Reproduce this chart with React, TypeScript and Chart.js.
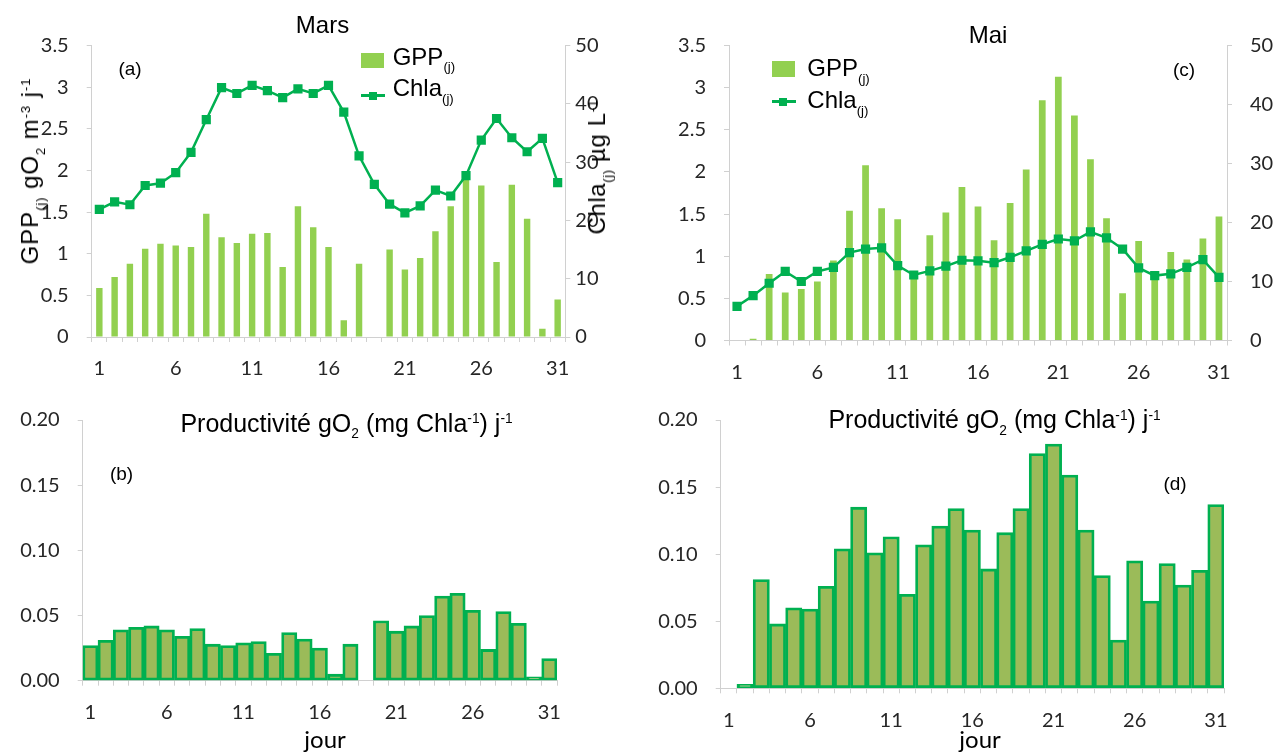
import React, { useEffect, useRef } from 'react';
import { Chart, registerables } from 'chart.js';

Chart.register(...registerables);

// ---------- data ----------
const days = ['1','2','3','4','5','6','7','8','9','10','11','12','13','14','15','16','17','18','19','20','21','22','23','24','25','26','27','28','29','30','31'];

const marsGPP = [0.59,0.72,0.88,1.06,1.12,1.10,1.08,1.48,1.20,1.13,1.24,1.25,0.84,1.57,1.32,1.08,0.20,0.88,null,1.05,0.81,0.95,1.27,1.57,1.90,1.82,0.90,1.83,1.42,0.10,0.45];
const marsChla = [21.9,23.2,22.7,26.0,26.4,28.2,31.7,37.3,42.8,41.8,43.2,42.3,41.1,42.6,41.8,43.2,38.6,31.1,26.2,22.8,21.3,22.5,25.2,24.2,27.7,33.8,37.5,34.2,31.8,34.1,26.5];

const maiGPP = [null,0.02,0.79,0.57,0.61,0.70,0.95,1.54,2.08,1.57,1.44,0.77,1.25,1.52,1.82,1.59,1.19,1.63,2.03,2.85,3.13,2.67,2.15,1.45,0.56,1.18,0.75,1.05,0.96,1.21,1.47];
const maiChla = [5.8,7.6,9.7,11.7,10.0,11.7,12.4,14.9,15.5,15.7,12.7,11.1,11.8,12.6,13.6,13.5,13.2,14.1,15.2,16.3,17.2,16.9,18.4,17.4,15.5,12.3,11.0,11.3,12.4,13.7,10.7];

const marsProd = [0.027,0.031,0.039,0.041,0.042,0.039,0.034,0.040,0.028,0.027,0.029,0.030,0.021,0.037,0.032,0.025,0.005,0.028,null,0.046,0.038,0.042,0.050,0.065,0.067,0.054,0.024,0.053,0.044,0.003,0.017];
const maiProd = [null,0.003,0.081,0.048,0.060,0.059,0.076,0.104,0.135,0.101,0.113,0.070,0.107,0.121,0.134,0.118,0.089,0.116,0.134,0.175,0.182,0.159,0.118,0.084,0.036,0.095,0.065,0.093,0.077,0.088,0.137];

const gppTicks = [0, 0.5, 1, 1.5, 2, 2.5, 3, 3.5];
const chlaTicks = [0, 10, 20, 30, 40, 50];
const prodTicks = [0, 0.05, 0.1, 0.15, 0.2];

// ---------- styles ----------
const LATO = 'Lato, "Open Sans", sans-serif';
const ARIAL = '"Liberation Sans", Arial, sans-serif';
const TICK_FONT = { family: 'Lato', size: 20 };
const TICK_COLOR = '#262626';
const AXIS_COLOR = '#d0d0d0';
const GPP_COLOR = '#92d050';
const LINE_COLOR = '#00b050';
const PROD_FILL = '#9bbb59';

function xScale(h: number) {
  return {
    type: 'category',
    offset: true,
    grid: { display: true, drawOnChartArea: false, drawTicks: true, tickLength: 5, offset: true, color: AXIS_COLOR },
    border: { display: true, color: AXIS_COLOR, width: 1 },
    ticks: {
      autoSkip: false, maxRotation: 0, minRotation: 0, padding: 15,
      font: TICK_FONT, color: TICK_COLOR,
      callback: (_v: any, i: number) => (i % 5 === 0 ? days[i] : ''),
    },
    afterFit: (s: any) => { s.height = h; },
  };
}

function yScale(position: string, values: number[], w: number, pad: number, fmt: (v: number) => string) {
  return {
    type: 'linear',
    position,
    min: values[0],
    max: values[values.length - 1],
    afterBuildTicks: (s: any) => { s.ticks = values.map((v) => ({ value: v })); },
    grid: { display: true, drawOnChartArea: false, drawTicks: true, tickLength: 5, color: AXIS_COLOR },
    border: { display: true, color: AXIS_COLOR, width: 1 },
    ticks: { padding: pad, font: TICK_FONT, color: TICK_COLOR, callback: (v: any) => fmt(Number(v)) },
    afterFit: (s: any) => { s.width = w; },
  };
}

function comboConfig(gpp: (number | null)[], chla: number[], dims: { top: number; leftW: number; rightW: number; xH: number; lpad: number; rpad: number }) {
  return {
    type: 'bar',
    data: {
      labels: days,
      datasets: [
        {
          type: 'line', label: 'Chla', data: chla, yAxisID: 'y1', order: 0,
          borderColor: LINE_COLOR, backgroundColor: LINE_COLOR, borderWidth: 2.5,
          pointStyle: 'rect', pointRadius: 6.5, pointBackgroundColor: LINE_COLOR,
          pointBorderColor: LINE_COLOR, pointBorderWidth: 0, tension: 0,
        },
        {
          type: 'bar', label: 'GPP', data: gpp, yAxisID: 'y', order: 1,
          backgroundColor: GPP_COLOR, barPercentage: 0.42, categoryPercentage: 1,
        },
      ],
    },
    options: {
      responsive: false, animation: false, devicePixelRatio: 1,
      layout: { padding: { top: dims.top, left: 0, right: 0, bottom: 0 } },
      plugins: { legend: { display: false }, tooltip: { enabled: false }, title: { display: false } },
      scales: {
        x: xScale(dims.xH),
        y: yScale('left', gppTicks, dims.leftW, dims.lpad, (v) => String(v)),
        y1: yScale('right', chlaTicks, dims.rightW, dims.rpad, (v) => String(v)),
      },
    },
  };
}

function prodConfig(vals: (number | null)[], dims: { top: number; leftW: number; right: number; xH: number }) {
  return {
    type: 'bar',
    data: {
      labels: days,
      datasets: [
        {
          label: 'Prod', data: vals, backgroundColor: PROD_FILL, borderColor: LINE_COLOR,
          borderWidth: 2.8, borderSkipped: false, barPercentage: 1, categoryPercentage: 1,
        },
      ],
    },
    options: {
      responsive: false, animation: false, devicePixelRatio: 1,
      layout: { padding: { top: dims.top, left: 0, right: dims.right, bottom: 0 } },
      plugins: { legend: { display: false }, tooltip: { enabled: false }, title: { display: false } },
      scales: {
        x: xScale(dims.xH),
        y: yScale('left', prodTicks, dims.leftW, 18, (v) => v.toFixed(2)),
      },
    },
  };
}

function ChartCanvas({ left, top, width, height, config }: any) {
  const ref = useRef<HTMLCanvasElement>(null);
  useEffect(() => {
    const chart = new Chart(ref.current as HTMLCanvasElement, config() as any);
    return () => chart.destroy();
  }, []);
  return (
    <canvas
      ref={ref}
      width={width}
      height={height}
      style={{ position: 'absolute', left, top, width, height }}
    />
  );
}

// ---------- text helpers ----------
function TextAt({ x, base, size = 24, align = 'left', family = ARIAL, spacing = 0, children }: any) {
  const asc = family === LATO ? 0.887 : 0.8465;
  return (
    <div
      style={{
        position: 'absolute', left: x, top: base - asc * size, fontSize: size, fontFamily: family,
        lineHeight: 1, whiteSpace: 'nowrap', color: '#000', letterSpacing: spacing,
        transform: align === 'center' ? 'translateX(-50%)' : undefined,
      }}
    >
      {children}
    </div>
  );
}

function CenterText({ cx, cy, size = 19, rotate = false, spacing = 0, children }: any) {
  return (
    <div
      style={{
        position: 'absolute', left: cx, top: cy, fontSize: size, fontFamily: ARIAL, lineHeight: 1,
        whiteSpace: 'nowrap', color: '#000', letterSpacing: spacing,
        transform: rotate ? 'translate(-50%,-50%) rotate(-90deg)' : 'translate(-50%,-50%)',
      }}
    >
      {children}
    </div>
  );
}

const Sub = ({ children }: any) => (
  <span style={{ fontSize: '0.55em', position: 'relative', top: '0.5em' }}>{children}</span>
);
const Sup = ({ children }: any) => (
  <span style={{ fontSize: '0.55em', position: 'relative', top: '-0.6em' }}>{children}</span>
);

function Legend({ sqX, sqY, sqW, sqH, lineY, textX, base1, base2 }: any) {
  return (
    <>
      <div style={{ position: 'absolute', left: sqX, top: sqY, width: sqW, height: sqH, background: GPP_COLOR }} />
      <TextAt x={textX} base={base1} size={24}>GPP<Sub>(j)</Sub></TextAt>
      <div style={{ position: 'absolute', left: sqX, top: lineY - 1.25, width: sqW + 1, height: 2.5, background: LINE_COLOR }} />
      <div style={{ position: 'absolute', left: sqX + sqW / 2 - 4, top: lineY - 4, width: 8, height: 8, background: LINE_COLOR }} />
      <TextAt x={textX} base={base2} size={24}>Chla<Sub>(j)</Sub></TextAt>
    </>
  );
}

export default function App() {
  return (
    <div style={{ position: 'absolute', left: 0, top: 0, width: 1279, height: 754, overflow: 'hidden', background: '#fff' }}>
      {/* (a) Mars GPP + Chla */}
      <ChartCanvas
        left={0} top={0} width={640} height={390}
        config={() => comboConfig(marsGPP, marsChla, { top: 45.7, leftW: 91.7, rightW: 74.7, xH: 53, lpad: 18, rpad: 5 })}
      />
      {/* (c) Mai GPP + Chla */}
      <ChartCanvas
        left={640} top={0} width={639} height={390}
        config={() => comboConfig(maiGPP, maiChla, { top: 45.5, leftW: 89, rightW: 52, xH: 49.5, lpad: 18, rpad: 18 })}
      />
      {/* (b) Mars productivity */}
      <ChartCanvas
        left={0} top={390} width={640} height={364}
        config={() => prodConfig(marsProd, { top: 11.7, leftW: 82.7, right: 83, xH: 73.3 })}
      />
      {/* (d) Mai productivity */}
      <ChartCanvas
        left={640} top={390} width={639} height={364}
        config={() => prodConfig(maiProd, { top: 14.3, leftW: 80.7, right: 55, xH: 65.7 })}
      />

      {/* titles */}
      <TextAt x={322.5} base={33.3} size={24} align="center">Mars</TextAt>
      <TextAt x={988} base={43.3} size={24} align="center">Mai</TextAt>

      {/* axis titles of (a) */}
      <CenterText cx={30} cy={171} size={24} rotate spacing={0.9}>
        GPP<Sub>(j)</Sub> gO<Sub>2</Sub> m<Sup>-3</Sup> j<Sup>-1</Sup>
      </CenterText>
      <CenterText cx={597} cy={167} size={24} rotate spacing={0.6}>
        Chla<Sub>(j)</Sub> µg L<Sup>-1</Sup>
      </CenterText>

      {/* legends */}
      <Legend sqX={361} sqY={52.7} sqW={23} sqH={15.6} lineY={95.7} textX={392.7} base1={65} base2={96.7} />
      <Legend sqX={771.7} sqY={60.7} sqW={23.3} sqH={16} lineY={101.7} textX={807.3} base1={76.7} base2={108.3} />

      {/* panel letters */}
      <CenterText cx={130} cy={68}>(a)</CenterText>
      <CenterText cx={1184} cy={69}>(c)</CenterText>
      <CenterText cx={121.5} cy={473}>(b)</CenterText>
      <CenterText cx={1175} cy={483}>(d)</CenterText>

      {/* productivity titles */}
      <TextAt x={346.5} base={431.7} size={25} align="center">
        Productivité gO<Sub>2</Sub> (mg Chla<Sup>-1</Sup>) j<Sup>-1</Sup>
      </TextAt>
      <TextAt x={994.5} base={428} size={25} align="center">
        Productivité gO<Sub>2</Sub> (mg Chla<Sup>-1</Sup>) j<Sup>-1</Sup>
      </TextAt>

      {/* x axis titles */}
      <TextAt x={325} base={748} size={24} align="center" family={LATO}>jour</TextAt>
      <TextAt x={980} base={748} size={24} align="center" family={LATO}>jour</TextAt>
    </div>
  );
}
